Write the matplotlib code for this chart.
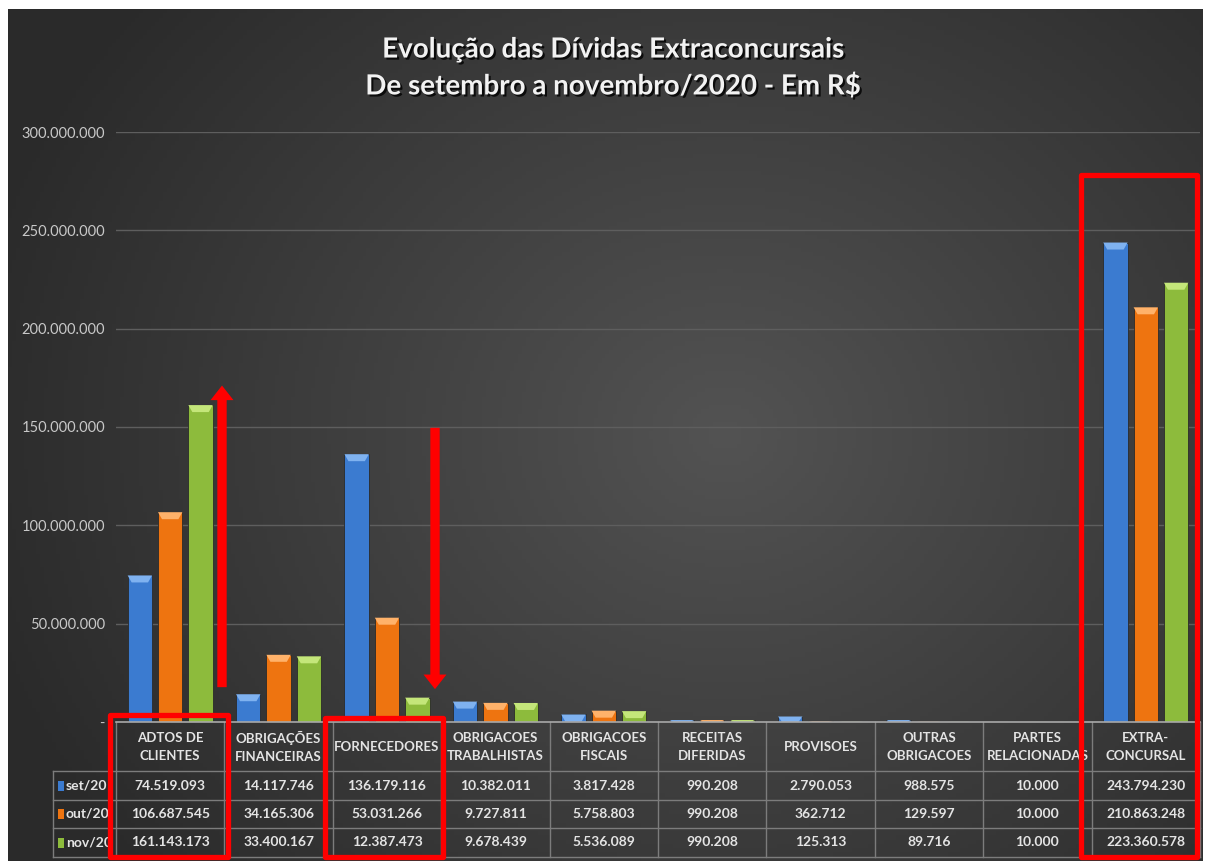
import numpy as np
import matplotlib
matplotlib.use("Agg")
import matplotlib.pyplot as plt
import matplotlib.transforms as mtransforms
from matplotlib import patheffects as pe
from matplotlib import font_manager as fm
from matplotlib.patches import Rectangle, FancyArrowPatch, Polygon

# ---------------- data ----------------
categories = ["ADTOS DE\nCLIENTES", "OBRIGAÇÕES\nFINANCEIRAS", "FORNECEDORES",
              "OBRIGACOES\nTRABALHISTAS", "OBRIGACOES\nFISCAIS", "RECEITAS\nDIFERIDAS",
              "PROVISOES", "OUTRAS\nOBRIGACOES", "PARTES\nRELACIONADAS", "EXTRA-\nCONCURSAL"]
series_names = ["set/20", "out/20", "nov/20"]
set20 = [74519093, 14117746, 136179116, 10382011, 3817428, 990208, 2790053, 988575, 10000, 243794230]
out20 = [106687545, 34165306, 53031266, 9727811, 5758803, 990208, 362712, 129597, 10000, 210863248]
nov20 = [161143173, 33400167, 12387473, 9678439, 5536089, 990208, 125313, 89716, 10000, 223360578]
series_values = [set20, out20, nov20]
series_colors = ["#3b7bd0", "#ee7410", "#8dbb3c"]
series_caps = ["#7fb2f0", "#ffb26a", "#c4e67a"]
yticks = [0, 50000000, 100000000, 150000000, 200000000, 250000000, 300000000]
ytick_labels = ["-", "50.000.000", "100.000.000", "150.000.000", "200.000.000",
                "250.000.000", "300.000.000"]
title = "Evolução das Dívidas Extraconcursais\nDe setembro a novembro/2020 - Em R$"


def has_bold(fam):
    try:
        p = fm.findfont(fm.FontProperties(family=fam, weight="bold"), fallback_to_default=False)
        return "bold" in p.lower()
    except Exception:
        return False


BOLD_FAM = "Lato"
for cand in ["Lato", "Open Sans", "Noto Sans", "Roboto", "DejaVu Sans"]:
    if has_bold(cand):
        BOLD_FAM = cand
        break
FONT = ["Lato", "DejaVu Sans"]
BFONT = [BOLD_FAM, "DejaVu Sans"]
plt.rcParams["font.family"] = FONT
bscale = 1.0 if BOLD_FAM in ("Lato", "Roboto") else 0.92

W, H = 1205, 861
fig = plt.figure(figsize=(W / 100, H / 100), dpi=100)
fig.patch.set_facecolor("white")

# dark gradient background
bg = fig.add_axes([8 / W, 0, (1203 - 8) / W, (861 - 9) / H])
ny, nx = 200, 300
yy, xx = np.mgrid[0:1:ny * 1j, 0:1:nx * 1j]
r = np.sqrt(((xx - 0.6) / 0.65) ** 2 + ((yy - 0.5) / 0.8) ** 2)
val = np.clip(1 - r, 0, 1)
gray = 0.165 + 0.16 * val
bg.imshow(np.dstack([gray] * 3), extent=[0, 1, 0, 1], aspect="auto", origin="lower")
bg.axis("off")

# main axes
ax_left, ax_right, ax_top, ax_bottom = 116, 1200, 132, 722
ax = fig.add_axes([ax_left / W, (H - ax_bottom) / H, (ax_right - ax_left) / W, (ax_bottom - ax_top) / H])
ax.set_facecolor("none")
ax.set_xlim(-0.5, len(categories) - 0.5)
ax.set_ylim(0, 300000000)
for s in ax.spines.values():
    s.set_visible(False)
ax.set_yticks(yticks)
ax.set_yticklabels(ytick_labels, color="#c8c8c8", fontsize=10.5)
ax.tick_params(axis="y", length=0, pad=8)
ax.set_xticks([])
ax.yaxis.grid(True, color="#5e5e5e", lw=1)
ax.set_axisbelow(True)

px_h = ax_bottom - ax_top
y_per_px = 300000000 / px_h
px_w = (ax_right - ax_left) / len(categories)

x = np.arange(len(categories))
offsets = [-0.28, 0.0, 0.28]
bw = 0.225
for vals, off, col, capc in zip(series_values, offsets, series_colors, series_caps):
    bars = ax.bar(x + off, vals, width=bw, color=col, edgecolor="#2a2a2a", linewidth=0.6, zorder=3)
    # bevelled top cap, derived from each bar's geometry
    for b in bars:
        bx, by, bwid, bh = b.get_x(), b.get_y(), b.get_width(), b.get_height()
        ch = min(bh, 7 * y_per_px)
        inset = min(bwid * 0.2, 4 / px_w)
        top = by + bh
        ax.add_patch(Polygon([[bx, top], [bx + bwid, top], [bx + bwid - inset, top - ch],
                              [bx + inset, top - ch]], closed=True, facecolor=capc,
                             edgecolor="none", zorder=4))

# ---------------- data table ----------------
fy = lambda py: (ax_bottom - py) / px_h
fx = lambda px: (px - ax_left) / px_w - 0.5
trans = mtransforms.blended_transform_factory(ax.transData, ax.transAxes)

row_lines = [722, 771, 800, 828, 857]
line_col = "#7c7c7c"
xl = fx(53)
ax.plot([-0.5, len(categories) - 0.5], [fy(722)] * 2, transform=trans, color="#a8a8a8", lw=1.2, clip_on=False, zorder=5)
for py in row_lines[1:]:
    ax.plot([xl, len(categories) - 0.5], [fy(py)] * 2, transform=trans, color=line_col, lw=1, clip_on=False)
for i in range(len(categories) + 1):
    ax.plot([i - 0.5] * 2, [fy(722), fy(857)], transform=trans, color=line_col, lw=1, clip_on=False)
ax.plot([xl] * 2, [fy(771), fy(857)], transform=trans, color=line_col, lw=1, clip_on=False)

txt_col = "#e4e4e4"
for i, cat in enumerate(categories):
    ax.text(i, fy(747), cat, transform=trans, ha="center", va="center", fontsize=9.5 * bscale,
            fontweight="bold", family=BFONT, color=txt_col, linespacing=1.55, clip_on=False)

row_centers = [785.5, 814, 842.5]
fmt = lambda v: f"{v:,}".replace(",", ".")
for vals, pyc in zip(series_values, row_centers):
    for i, v in enumerate(vals):
        ax.text(i, fy(pyc), fmt(v), transform=trans, ha="center", va="center", fontsize=10 * bscale,
                fontweight="bold", family=BFONT, color=txt_col, clip_on=False)

for name, col, pyc in zip(series_names, series_colors, row_centers):
    ax.add_patch(Rectangle((fx(58), fy(pyc + 5)), fx(64) - fx(58), fy(pyc - 5) - fy(pyc + 5),
                           transform=trans, facecolor=col, edgecolor="none", clip_on=False))
    ax.text(fx(66), fy(pyc), name, transform=trans, ha="left", va="center", fontsize=10 * bscale,
            fontweight="bold", family=BFONT, color=txt_col, clip_on=False)

# ---------------- red annotations ----------------
red = "#ff0000"
rects = [(fx(110), fx(228), fy(857), fy(715)),
         (fx(325), fx(443), fy(857), fy(718)),
         (fx(1081), fx(1197), fy(857), fy(175))]
for x0, x1, y0, y1 in rects:
    ax.add_patch(Rectangle((x0, y0), x1 - x0, y1 - y0, transform=trans, fill=False,
                           edgecolor=red, lw=3.8, clip_on=False, zorder=6, joinstyle="round"))

arrow_style = "simple,head_width=1.1,head_length=0.7,tail_width=0.45"
ax.add_patch(FancyArrowPatch((fx(222), 16300000), (fx(222), 172500000), arrowstyle=arrow_style,
                             mutation_scale=15, color=red, lw=0, zorder=6, clip_on=False))
ax.add_patch(FancyArrowPatch((fx(435), 151000000), (fx(435), 15300000), arrowstyle=arrow_style,
                             mutation_scale=15, color=red, lw=0, zorder=6, clip_on=False))

# ---------------- title ----------------
fig.text(613 / W, 1 - 68 / H, title, ha="center", va="center", fontsize=20 * (0.95 if bscale < 1 else 1),
         color="#f2f2f2", fontweight="bold", family=BFONT, linespacing=1.45,
         path_effects=[pe.SimplePatchShadow(offset=(1.5, -1.5), shadow_rgbFace="black", alpha=0.8), pe.Normal()])

fig.savefig("out.png", dpi=100, facecolor=fig.get_facecolor())
